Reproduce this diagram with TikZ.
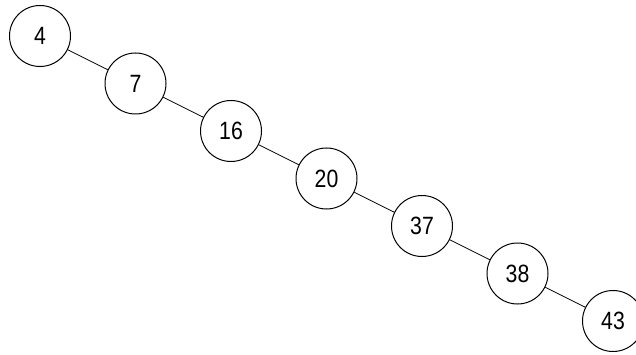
\documentclass[tikz,border=0pt]{standalone}
\usepackage{fontspec}
\setmainfont{Liberation Sans}
\newfontfamily\narrowfont[FakeStretch=0.85]{Liberation Sans}

\begin{document}
\begin{tikzpicture}[x=1pt, y=1pt, level distance=47.5pt, sibling distance=191pt,
    every node/.style={circle, draw, line width=1pt, minimum size=61pt, inner sep=0pt,
        font=\narrowfont\fontsize{25}{30}\selectfont},
    edge from parent/.style={draw, line width=0.8pt}
    ]

    % Page frame
    \useasboundingbox (0,0) rectangle (636,-355);
    \clip (0,0) rectangle (636,-355);

    % Root node
    \node (n4) at (40,-36) {4}
        % Right spine
        child[missing]
        child {node (n7) {7}
            child[missing]
            child {node (n16) {16}
                child[missing]
                child {node (n20) {20}
                    child[missing]
                    child {node (n37) {37}
                        child[missing]
                        child {node (n38) {38}
                            child[missing]
                            child {node (n43) {43}}
                        }
                    }
                }
            }
        };
\end{tikzpicture}
\end{document}
